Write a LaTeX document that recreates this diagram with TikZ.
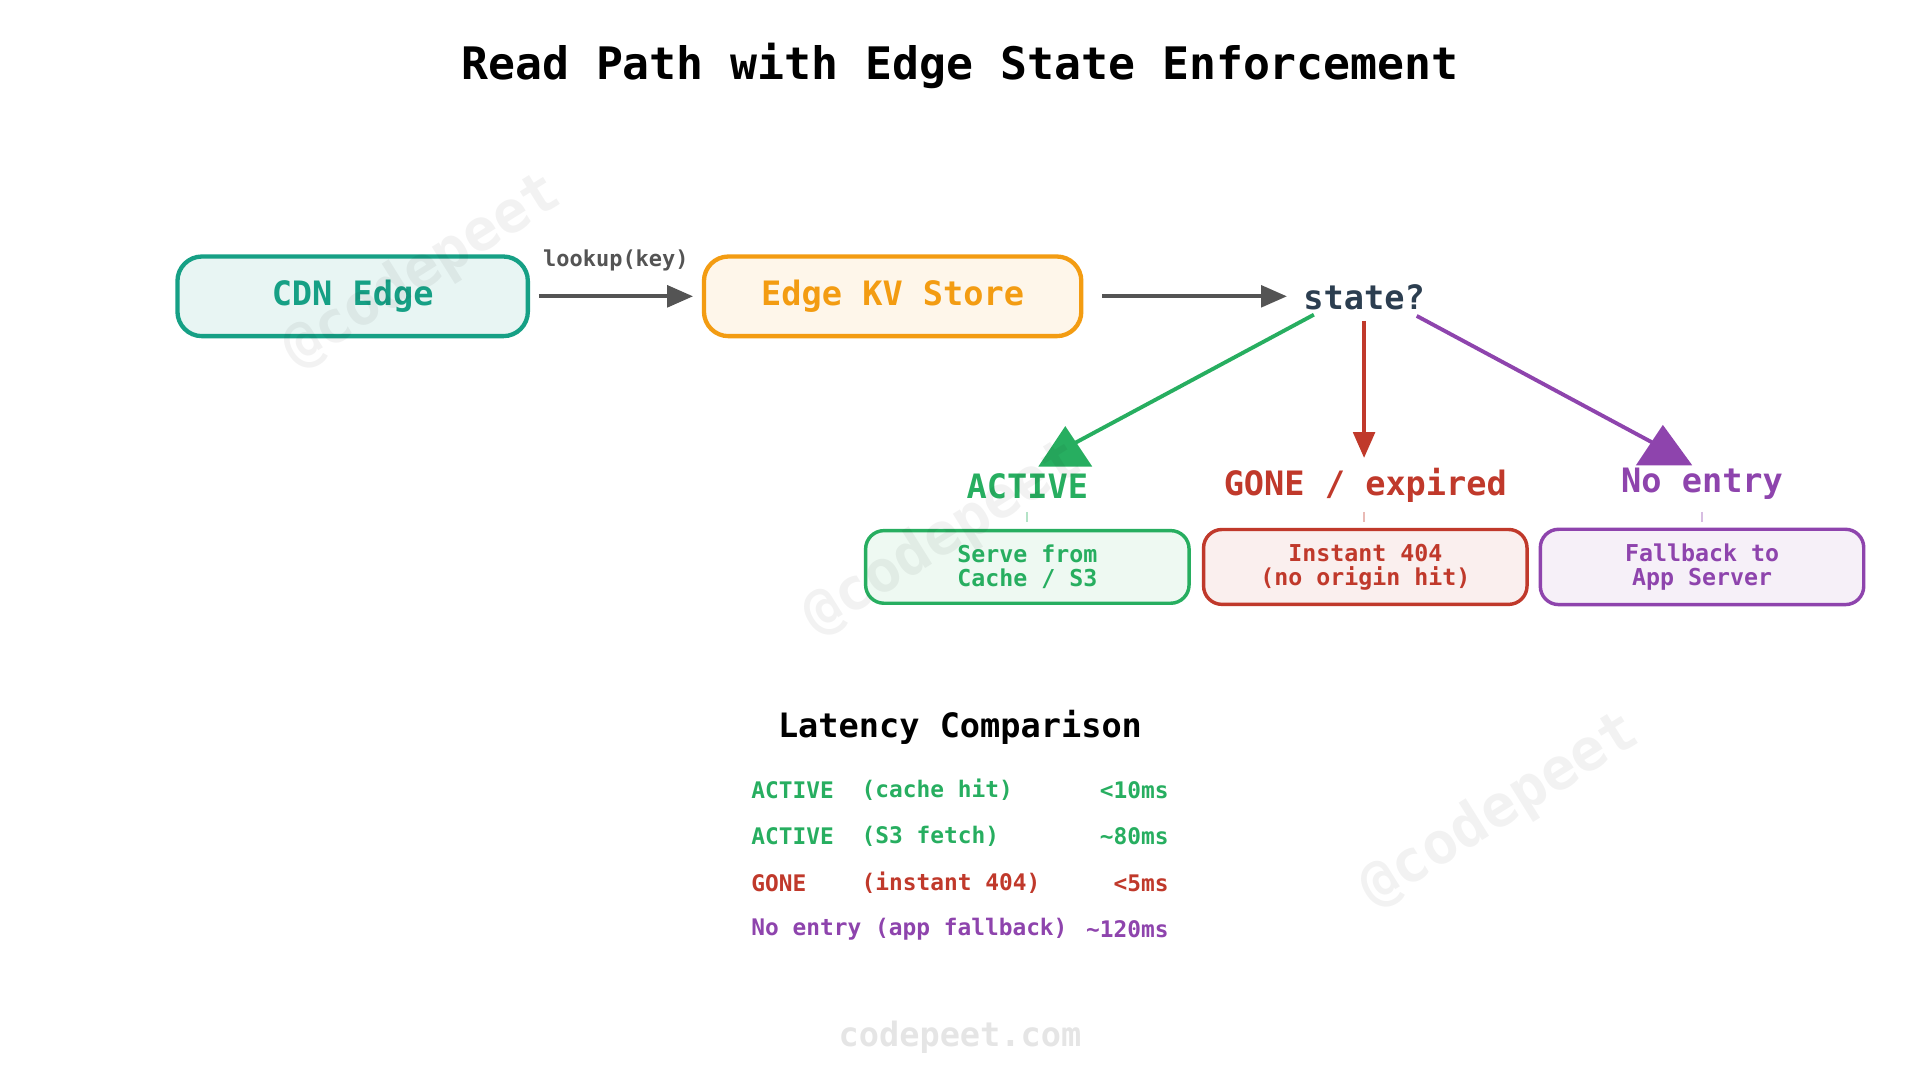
\documentclass[tikz,border=0pt]{standalone}
\usepackage{fontspec}
\setmonofont{DejaVu Sans Mono}
\usetikzlibrary{arrows.meta,positioning}
\definecolor{tealc}{HTML}{16A085}
\definecolor{orng}{HTML}{F39C12}
\definecolor{grn}{HTML}{27AE60}
\definecolor{rd}{HTML}{C0392B}
\definecolor{prp}{HTML}{8E44AD}
\definecolor{navy}{HTML}{2C3E50}
\begin{document}
\begin{tikzpicture}[x=0.01cm,y=-0.01cm,font=\ttfamily\bfseries,
  box/.style={draw,rounded corners=2mm,line width=1pt,minimum height=0.65cm},
  res/.style={draw,rounded corners=1.5mm,line width=0.8pt,minimum width=2.64cm,minimum height=0.54cm,align=center,font=\ttfamily\bfseries\fontsize{5.4}{5.6}\selectfont},
  lbl/.style={font=\ttfamily\bfseries\fontsize{7.8}{9}\selectfont},
  row/.style={inner sep=0pt,font=\ttfamily\bfseries\fontsize{5.3}{6}\selectfont},
  wmark/.style={text=black,text opacity=0.05,rotate=32,font=\ttfamily\bfseries\fontsize{13.5}{14}\selectfont},
  link/.style={->,>={Triangle[length=6pt,width=5pt]},line width=0.9pt}]
  \useasboundingbox (0,0) rectangle (1568,882);

  \node[font=\ttfamily\bfseries\fontsize{10.4}{12}\selectfont] (title) at (784,54) {Read Path with Edge State Enforcement};

  \node[box,draw=tealc,fill=tealc!10,text=tealc,minimum width=2.86cm,lbl] (cdn) at (288,242) {CDN Edge};
  \node[box,draw=orng,fill=orng!9,text=orng,minimum width=3.08cm,lbl] (kv) at (729,242) {Edge KV Store};
  \node[lbl,text=navy] (state) at (1114,243) {state?};

  \coordinate (a1) at (440,242);
  \coordinate (a2) at (566,242);
  \coordinate (b1) at (900,242);
  \coordinate (b2) at (1051,242);
  \draw[link,black!67] (a1) -- (a2) node[midway,above=2pt,text=black!67,font=\ttfamily\bfseries\fontsize{5.1}{6}\selectfont] {lookup(key)};
  \draw[link,black!67] (b1) -- (b2);

  \node[lbl,text=grn] (active) at (839,397) {ACTIVE};
  \node[lbl,text=rd] (gone) at (1115,396) {GONE / expired};
  \node[lbl,text=prp] (noent) at (1390,395) {No entry};

  % branches
  \coordinate (sa) at (1073,257);
  \coordinate (sp) at (1157,258);
  \coordinate (sg) at (1114,262);
  \coordinate (ta) at (870,366);
  \coordinate (tp) at (1358,366);
  \coordinate (tg) at (1114,374);
  \draw[grn,line width=0.9pt] (sa) -- (ta);
  \fill[grn] (870,348) -- (892,381) -- (848,381) -- cycle;
  \draw[prp,line width=0.9pt] (sp) -- (tp);
  \fill[prp] (1358,347) -- (1382,380) -- (1336,380) -- cycle;
  \draw[link,rd] (sg) -- (tg);

  \node[res,draw=grn,fill=grn!8,text=grn] (serve) at (839,463) {Serve from\\Cache / S3};
  \node[res,draw=rd,fill=rd!8,text=rd] (inst) at (1115,463) {Instant 404\\(no origin hit)};
  \node[res,draw=prp,fill=prp!8,text=prp] (fall) at (1390,463) {Fallback to\\App Server};
  \foreach \x/\c in {839/grn,1114/rd,1390/prp}
    \draw[\c!35,line width=0.4pt] (\x,418) -- (\x,426);

  % latency table
  \node[lbl,text=black] (lat) at (784,594) {Latency Comparison};
  \node[row,text=grn,anchor=west] (r1a) at (613,645) {ACTIVE};
  \node[row,text=grn,anchor=west] (r1b) at (703,645) {(cache hit)};
  \node[row,text=grn,anchor=east] (r1c) at (955,645) {<10ms};
  \node[row,text=grn,anchor=west] (r2a) at (613,683) {ACTIVE};
  \node[row,text=grn,anchor=west] (r2b) at (703,683) {(S3 fetch)};
  \node[row,text=grn,anchor=east] (r2c) at (955,683) {\textasciitilde80ms};
  \node[row,text=rd,anchor=west] (r3a) at (613,721) {GONE};
  \node[row,text=rd,anchor=west] (r3b) at (703,721) {(instant 404)};
  \node[row,text=rd,anchor=east] (r3c) at (955,721) {<5ms};
  \node[row,text=prp,anchor=west] (r4a) at (613,759) {No entry (app fallback)};
  \node[row,text=prp,anchor=east] (r4c) at (955,759) {\textasciitilde120ms};

  \node[lbl,text=black!10] (site) at (784,847) {codepeet.com};

  % watermarks
  \node[wmark] (wm1) at (345,222) {@codepeet};
  \node[wmark] (wm2) at (770,440) {@codepeet};
  \node[wmark] (wm3) at (1225,662) {@codepeet};
\end{tikzpicture}
\end{document}
